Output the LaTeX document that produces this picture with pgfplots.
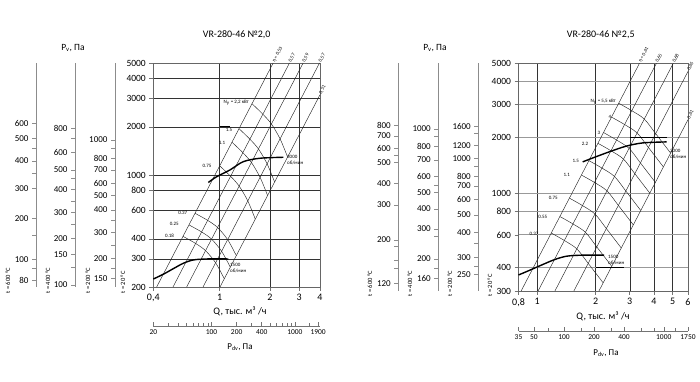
\documentclass[border=0pt]{standalone}
\usepackage{pgfplots}
\pgfplotsset{compat=1.18}
\usepackage{fontspec}
\setmainfont{Carlito}
\newcommand{\fs}[1]{\fontsize{#1}{#1}\selectfont}
\pgfplotsset{
  pvscale/.style={scale only axis, width=1pt, xmin=0, xmax=1, hide x axis,
    axis y line*=left, tick align=outside, major tick length=4pt,
    y axis line style={black!45, line width=0.9pt},
    ytick style={black!45, line width=0.6pt},
    yticklabel style={font=\fs{9}},
    /pgf/number format/assume math mode=true},
  pdvscale/.style={scale only axis, height=1pt, ymin=0, ymax=1, hide y axis,
    axis x line*=bottom, tick align=inside,
    major tick length=4pt, minor tick length=3.5pt,
    x axis line style={black!55, line width=0.6pt},
    xtick style={black!55, line width=0.5pt},
    xticklabel style={font=\fs{7.5}},
    /pgf/number format/assume math mode=true},
  mainax/.style={scale only axis,
    minor tick length=0pt, grid=major,
    tick align=outside, xtick pos=bottom, ytick pos=left, major tick length=4pt,
    tick style={black!55, line width=0.5pt},
    xticklabel style={font=\fs{10}}, yticklabel style={font=\fs{9.5}},
    axis line style={black!60, line width=0.5pt},
    clip=false, /pgf/number format/assume math mode=true},
  eta/.style={black!85, line width=0.45pt},
  pw/.style={black!85, line width=0.45pt, smooth},
  fan/.style={black, line width=1.4pt, smooth},
}
\begin{document}
\begin{tikzpicture}[x=1pt,y=1pt]
\path[use as bounding box] (0,0) rectangle (700,382);

% ================= LEFT CHART =================
\node[font=\fs{10}] at (236.7,347) {VR-280-46 №2,0};
\node[font=\fs{9.5}] at (73,334) {P\textsubscript{v}, Па};
\foreach \xx/\tt in {8/600,48/400,88/200,123/20}
  \node[rotate=90, anchor=west, font=\fs{6.5}] at (\xx,85) {t = \tt\ °C};

\begin{axis}[pvscale, at={(36pt,95pt)}, anchor=south west, height=224pt, ymin=0, ymax=224,
  ytick={7,18.7,27.7,51.3,68.7,98.7,113.7,126,138.7,148.7,163.7},
  yticklabels={80,,100,,200,300,,400,,500,600}]
\addplot[draw=none] coordinates {(0.5,100)};
\end{axis}
\begin{axis}[pvscale, at={(75pt,95pt)}, anchor=south west, height=224pt, ymin=0, ymax=224,
  ytick={2,19.3,32.7,48.7,62.7,74.3,85.3,97.7,108.7,117,134.3,148.7,158.7},
  yticklabels={100,,150,200,,300,,400,,500,600,,800}]
\addplot[draw=none] coordinates {(0.5,100)};
\end{axis}
\begin{axis}[pvscale, at={(115pt,95pt)}, anchor=south west, height=224pt, ymin=0, ymax=224,
  ytick={8.7,18.7,28.7,42,54.7,67,77,91.3,103.7,117,128.7,138.7,147},
  yticklabels={150,,200,,300,,400,500,600,700,800,,1000}]
\addplot[draw=none] coordinates {(0.5,100)};
\end{axis}

\begin{axis}[mainax, xmode=log, ymode=log, at={(153.3pt,95pt)}, anchor=south west, width=166.7pt, height=224pt,
  xmin=0.4, xmax=4, ymin=200, ymax=5000,
  xtick={0.4,1,2,3,4}, xticklabels={{0,4},1,2,3,4},
  ytick={200,300,400,600,800,1000,2000,3000,4000,5000},
  yticklabels={200,300,400,600,800,1000,2000,3000,4000,5000},
  major grid style={black!80, line width=0.4pt}]
% efficiency lines
\addplot[eta] coordinates {(0.419,200) (2.095,5000)};
\addplot[eta] coordinates {(0.525,200) (2.625,5000)};
\addplot[eta] coordinates {(0.634,200) (3.170,5000)};
\addplot[eta] coordinates {(0.795,200) (3.975,5000)};
\addplot[eta] coordinates {(1.005,200) (4.0,3168)};
% power lines
\addplot[pw] coordinates {(1.5636,2785) (1.8169,2395) (2.0452,2081) (2.3047,1681) (2.5565,1294)};
\addplot[pw] coordinates {(1.307,1946) (1.5187,1673) (1.7096,1454) (1.9265,1174) (2.1369,904)};
\addplot[pw] coordinates {(1.186,1602) (1.3781,1378) (1.5513,1197) (1.7482,967) (1.9391,745)};
\addplot[pw] coordinates {(1.001,1141) (1.1632,982) (1.3093,853) (1.4755,689) (1.6366,530)};
\addplot[pw] coordinates {(0.7117,577) (0.8476,521) (0.9722,470) (1.1174,395) (1.259,314)};
\addplot[pw] coordinates {(0.6548,488) (0.7799,441) (0.8945,398) (1.028,334) (1.1583,266)};
\addplot[pw] coordinates {(0.6028,414) (0.7179,374) (0.8234,337) (0.9464,283) (1.0664,225)};
% fan curves
\addplot[fan] coordinates {(0.855,898) (0.96,976) (1.153,1075) (1.386,1211) (1.746,1272) (2.41,1290)};
\addplot[fan] coordinates {(0.4,224.2) (0.459,240.1) (0.527,260.1) (0.605,281.1) (0.695,294.9) (0.836,299.2) (1.127,299.2)};
\addplot[black, line width=1.1pt] coordinates {(1.0,2000) (1.153,2000)};
% eta labels
\node[rotate=62, anchor=west, font=\fs{5}, inner sep=1pt] at (axis cs:2.095,5000) {η = 0,53};
\node[rotate=62, anchor=west, font=\fs{5}, inner sep=1pt] at (axis cs:2.625,5000) {0,57};
\node[rotate=62, anchor=west, font=\fs{5}, inner sep=1pt] at (axis cs:3.170,5000) {0,59};
\node[rotate=62, anchor=west, font=\fs{5}, inner sep=1pt] at (axis cs:3.975,5000) {0,57};
\node[rotate=62, anchor=west, font=\fs{5}, inner sep=1pt] at (axis cs:4.0,3168) {0,51};
\end{axis}
% in-plot labels (left)
\node[anchor=east, font=\fs{5}, inner sep=1pt] at (250,279.5) {N\textsubscript{у} = 2,2 кВт};
\node[font=\fs{5}] at (229,252) {1.5};
\node[font=\fs{5}] at (222,238.7) {1.1};
\node[font=\fs{5}] at (207,216) {0.75};
\node[font=\fs{5}] at (182.8,168.7) {0.37};
\node[font=\fs{5}] at (174.2,157.7) {0.25};
\node[font=\fs{5}] at (169.5,146) {0.18};
\node[anchor=west, align=left, font=\fs{5}, inner sep=0pt] at (287,222) {3000\\[0.6pt]об/мин};
\node[anchor=west, align=left, font=\fs{5}, inner sep=0pt] at (230,114) {1500\\[0.6pt]об/мин};
\node[font=\fs{10}] at (240,70.3) {Q, тыс. м³ /ч};

\begin{axis}[pdvscale, xmode=log, at={(153.3pt,56pt)}, anchor=south west, width=166.7pt,
  xmin=20, xmax=2000,
  xtick={20,100,200,400,1000,1900}, xticklabels={20,100,200,400,1000,1900},
  minor xtick={30,40,50,60,70,80,90,300,500,600,700,800,900,1500}]
\addplot[draw=none] coordinates {(100,0.5)};
\end{axis}
\node[font=\fs{9}] at (240,34.5) {P\textsubscript{dv}, Па};

% ================= RIGHT CHART =================
\node[font=\fs{10}] at (600.7,347) {VR-280-46 №2,5};
\node[font=\fs{9.5}] at (435,334) {P\textsubscript{v}, Па};
\foreach \xx/\tt in {370/600,410/400,450/200,490/20}
  \node[rotate=90, anchor=west, font=\fs{6.5}] at (\xx,82) {t = \tt\ °C};

\begin{axis}[pvscale, at={(398.3pt,91pt)}, anchor=south west, height=227.7pt, ymin=0, ymax=227.7,
  ytick={7.7,22.7,31,44.3,51,86,107.7,128.3,136,142.7,155,166},
  yticklabels={120,,,,200,300,400,500,,600,700,800}]
\addplot[draw=none] coordinates {(0.5,100)};
\end{axis}
\begin{axis}[pvscale, at={(438.3pt,91pt)}, anchor=south west, height=227.7pt, ymin=0, ymax=227.7,
  ytick={12.7,22.7,32,54.3,62,82,98.7,106,115,131,145,154.3,162},
  yticklabels={160,,200,,300,400,500,,600,700,800,,1000}]
\addplot[draw=none] coordinates {(0.5,100)};
\end{axis}
\begin{axis}[pvscale, at={(478.3pt,91pt)}, anchor=south west, height=227.7pt, ymin=0, ymax=227.7,
  ytick={16.7,25,33.3,47.7,58.3,76,91.7,105,115,124.3,132.7,145.3,157.7,165},
  yticklabels={250,,300,,400,500,600,700,800,,1000,1200,,1600}]
\addplot[draw=none] coordinates {(0.5,100)};
\end{axis}

\begin{axis}[mainax, xmode=log, ymode=log, at={(518.5pt,91pt)}, anchor=south west, width=169.5pt, height=227.7pt,
  xmin=0.8, xmax=6, ymin=300, ymax=5000,
  xtick={0.8,1,2,3,4,5,6}, xticklabels={{0,8},1,2,3,4,5,6},
  ytick={300,400,600,800,1000,2000,3000,4000,5000},
  yticklabels={300,400,600,800,1000,2000,3000,4000,5000},
  major x grid style={black!80, line width=0.4pt},
  major y grid style={black!40, line width=0.9pt}]
\addplot[eta] coordinates {(0.8255,300) (3.370,5000)};
\addplot[eta] coordinates {(1.0097,300) (4.122,5000)};
\addplot[eta] coordinates {(1.2334,300) (5.036,5000)};
\addplot[eta] coordinates {(1.5449,300) (6,4525)};
\addplot[eta] coordinates {(2.0812,300) (6,2493)};
\addplot[pw] coordinates {(2.633,3052) (3.075,2784) (3.568,2510) (4.084,2097) (4.879,1649)};
\addplot[pw] coordinates {(2.417,2572) (2.823,2346) (3.275,2115) (3.749,1767) (4.479,1389)};
\addplot[pw] coordinates {(2.197,2125) (2.566,1938) (2.977,1748) (3.408,1460) (4.071,1148)};
\addplot[pw] coordinates {(2.056,1861) (2.401,1697) (2.786,1531) (3.189,1278) (3.810,1005)};
\addplot[pw] coordinates {(1.847,1502) (2.157,1370) (2.503,1235) (2.865,1032) (3.423,811)};
\addplot[pw] coordinates {(1.690,1257) (1.974,1147) (2.290,1034) (2.621,864) (3.132,679)};
\addplot[pw] coordinates {(1.465,945) (1.711,862) (1.985,777) (2.272,649) (2.715,510)};
\addplot[pw] coordinates {(1.308,753) (1.528,687) (1.772,620) (2.029,517) (2.424,407)};
\addplot[pw] coordinates {(1.181,614) (1.379,560) (1.600,505) (1.832,422) (2.188,332)};
\addplot[fan] coordinates {(1.716,1479) (2.0,1573) (2.347,1673) (2.871,1795) (3.508,1870) (4.65,1893)};
\addplot[fan] coordinates {(0.8,365.7) (0.895,384.1) (1.050,413) (1.234,443) (1.4196,461.2) (1.7013,467) (2.2107,467)};
\addplot[black, line width=1.1pt] coordinates {(3.0,2000) (4.7,2000)};
\addplot[black, line width=1.1pt] coordinates {(2.0,400) (2.8,400)};
\node[rotate=63, anchor=west, font=\fs{5}, inner sep=1pt] at (axis cs:3.370,5000) {η = 0,61};
\node[rotate=63, anchor=west, font=\fs{5}, inner sep=1pt] at (axis cs:4.122,5000) {0,65};
\node[rotate=63, anchor=west, font=\fs{5}, inner sep=1pt] at (axis cs:5.036,5000) {0,68};
\node[rotate=63, anchor=west, font=\fs{5}, inner sep=1pt] at (axis cs:6,4525) {0,65};
\node[rotate=63, anchor=west, font=\fs{5}, inner sep=1pt] at (axis cs:6,2493) {0,61};
\end{axis}
\node[anchor=east, font=\fs{5}, inner sep=1pt] at (617,280.3) {N\textsubscript{у} = 5,5 кВт};
\node[font=\fs{5}] at (610,264.7) {4};
\node[font=\fs{5}] at (599,249.3) {3};
\node[font=\fs{5}] at (585,238) {2.2};
\node[font=\fs{5}] at (575.7,221.3) {1.5};
\node[font=\fs{5}] at (566.7,207) {1.1};
\node[font=\fs{5}] at (553.3,183.7) {0.75};
\node[font=\fs{5}] at (542.7,165.3) {0.55};
\node[font=\fs{5}] at (534,148) {0.37};
\node[anchor=west, align=left, font=\fs{5}, inner sep=0pt] at (670,228) {3000\\[0.6pt]об/мин};
\node[anchor=west, align=left, font=\fs{5}, inner sep=0pt] at (608,122) {1500\\[0.6pt]об/мин};
\node[font=\fs{10}] at (603,65.3) {Q, тыс. м³ /ч};

\begin{axis}[pdvscale, xmode=log, at={(518.5pt,51pt)}, anchor=south west, width=169.5pt,
  xmin=35, xmax=1750,
  xtick={35,50,100,200,400,1000,1750}, xticklabels={35,50,100,200,400,1000,1750},
  minor xtick={70,150,300,600,800,1300}]
\addplot[draw=none] coordinates {(100,0.5)};
\end{axis}
\node[font=\fs{9}] at (606,29) {P\textsubscript{dv}, Па};
\end{tikzpicture}
\end{document}
